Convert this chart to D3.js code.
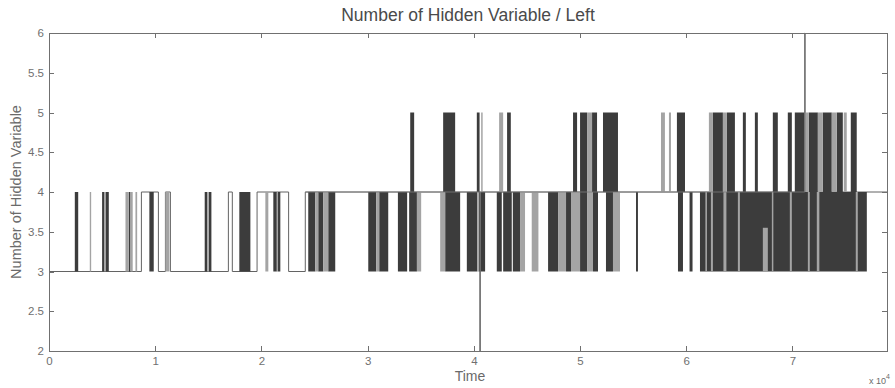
<!DOCTYPE html>
<html>
<head>
<meta charset="utf-8">
<script src="https://cdn.jsdelivr.net/npm/d3@7/dist/d3.min.js"></script>
<style>
  body { margin: 0; background: #fff; }
  svg { display: block; font-family: "Liberation Sans", Arial, sans-serif; }
  .axis path, .axis line { stroke: #707070; shape-rendering: crispEdges; }
  .axis text { fill: #707070; font-size: 11.5px; }
</style>
</head>
<body>
<svg width="895" height="388"></svg>
<script>
// base step line (time, number of hidden variables)
var stepTime  = [0, 8700, 10300, 10960, 11430, 16890, 17260, 19590, 22560, 24130, 40590, 40600, 71160, 71170, 78900];
var stepValue = [3, 4,    3,     4,     3,     4,     3,     4,     3,     4,     2,     4,     6,     4,     4];

// fast switching between 3 and 4, seen as filled blocks
var lowDark = [[2430, 2750], [5000, 5220], [5320, 5630], [7510, 7670], [9450, 9860], [14660, 14910], [15050, 15290],
  [17920, 18960], [21120, 21450], [21540, 21780], [24410, 25070], [25350, 25820], [26290, 26950], [30060, 30810],
  [31090, 31940], [32850, 33720], [33910, 34640], [37300, 38710], [39340, 40310], [40450, 41060], [42160, 42630],
  [42760, 43570], [43670, 44350], [46990, 47930], [48680, 49150], [50000, 50660], [51220, 51690], [52440, 53100],
  [55270, 55450], [59220, 59690], [60310, 60590], [61290, 77000]];
var lowLight = [[3840, 3970], [5220, 5320], [7200, 7510], [7670, 7880], [8140, 8300], [10960, 11340], [14910, 15050],
  [20370, 20650], [21450, 21540], [25070, 25350], [25820, 26290], [30810, 31090], [34640, 35040], [36830, 37300],
  [40310, 40450], [44350, 44820], [45450, 46080], [47930, 48680], [49150, 50000], [50660, 51220], [53100, 53760],
  [61800, 61950], [62320, 62510], [63500, 63780], [64860, 65050], [68060, 68200], [69750, 69940], [71450, 71630],
  [72290, 72530], [75960, 76150]];
var notch = [[67210, 67680]];
var notchTop = 3.55;

// fast switching between 4 and 5
var highDark = [[34010, 34380], [37110, 38240], [40280, 40540], [43130, 43480], [49340, 49720], [50000, 50660],
  [51130, 51600], [52160, 53570], [59120, 59880], [62510, 63450], [63830, 64580], [65330, 65610], [66460, 66740],
  [68150, 68620], [69560, 69940], [70220, 71160], [71540, 72390], [72860, 73700], [74170, 74740], [75490, 76050]];
var highLight = [[40690, 40830], [42380, 42760], [50660, 51130], [57620, 57990], [58370, 58560], [62130, 62510],
  [63450, 63830], [71160, 71540], [72390, 72860], [73700, 74170], [74830, 75110]];

var xTicks = [0, 1, 2, 3, 4, 5, 6, 7];
var yTicks = [2, 2.5, 3, 3.5, 4, 4.5, 5, 5.5, 6];

var svg = d3.select("svg"),
  plotLeft = 49, plotRight = 887, plotTop = 33, plotBottom = 351;

var x = d3.scaleLinear().domain([0, 78900]).range([plotLeft, plotRight]),
  y = d3.scaleLinear().domain([2, 6]).range([plotBottom, plotTop]);

var shade = { dark: "#3c3c3c", light: "#a4a4a4" };

var line = d3.line()
  .x(function(d) { return x(d[0]); })
  .y(function(d) { return y(d[1]); })
  .curve(d3.curveStepAfter);

svg.append("path")
  .datum(d3.zip(stepTime, stepValue))
  .attr("fill", "none")
  .attr("stroke", "#636363")
  .attr("stroke-width", 1)
  .attr("d", line);

function bands(data, lo, hi, color) {
  svg.append("g").selectAll("rect")
    .data(data)
    .enter().append("rect")
    .attr("x", function(d) { return x(d[0]); })
    .attr("width", function(d) { return Math.max(1.2, x(d[1]) - x(d[0])); })
    .attr("y", y(hi))
    .attr("height", y(lo) - y(hi))
    .attr("fill", color);
}
bands(lowDark, 3, 4, shade.dark);
bands(lowLight, 3, 4, shade.light);
bands(notch, 3, notchTop, shade.light);
bands(highDark, 4, 5, shade.dark);
bands(highLight, 4, 5, shade.light);

// single-sample spikes drawn again on top so they stay visible
svg.append("path")
  .datum(d3.zip(stepTime, stepValue).slice(9, 14))
  .attr("fill", "none")
  .attr("stroke", "#7c7c7c")
  .attr("stroke-width", 0.8)
  .attr("d", line);

// axes, box style with inward ticks
svg.append("g").attr("class", "axis")
  .attr("transform", "translate(0," + plotBottom + ")")
  .call(d3.axisBottom(x).tickValues(xTicks.map(function(d) { return d * 1e4; }))
    .tickFormat(function(d) { return d / 1e4; }).tickSizeInner(-5).tickSizeOuter(0).tickPadding(6));
svg.append("g").attr("class", "axis")
  .attr("transform", "translate(0," + plotTop + ")")
  .call(d3.axisTop(x).tickValues(xTicks.map(function(d) { return d * 1e4; }))
    .tickFormat("").tickSizeInner(-5).tickSizeOuter(0));
svg.append("g").attr("class", "axis")
  .attr("transform", "translate(" + plotLeft + ",0)")
  .call(d3.axisLeft(y).tickValues(yTicks).tickFormat(d3.format("")).tickSizeInner(-5).tickSizeOuter(0).tickPadding(5));
svg.append("g").attr("class", "axis")
  .attr("transform", "translate(" + plotRight + ",0)")
  .call(d3.axisRight(y).tickValues(yTicks).tickFormat("").tickSizeInner(-5).tickSizeOuter(0));

svg.append("text")
  .attr("x", 468).attr("y", 21)
  .attr("text-anchor", "middle")
  .attr("font-size", "17.5px")
  .attr("fill", "#4a4a4a")
  .text("Number of Hidden Variable / Left");

svg.append("text")
  .attr("x", 470).attr("y", 381)
  .attr("text-anchor", "middle")
  .attr("font-size", "14px")
  .attr("fill", "#6a6a6a")
  .text("Time");

svg.append("text")
  .attr("transform", "translate(21,192) rotate(-90)")
  .attr("text-anchor", "middle")
  .attr("font-size", "14.5px")
  .attr("fill", "#6a6a6a")
  .text("Number of Hidden Variable");

var exp = svg.append("text")
  .attr("x", 869).attr("y", 384)
  .attr("font-size", "9px")
  .attr("fill", "#6a6a6a");
exp.append("tspan").text("x 10");
exp.append("tspan").attr("dy", -5).attr("font-size", "7px").text("4");
</script>
</body>
</html>
